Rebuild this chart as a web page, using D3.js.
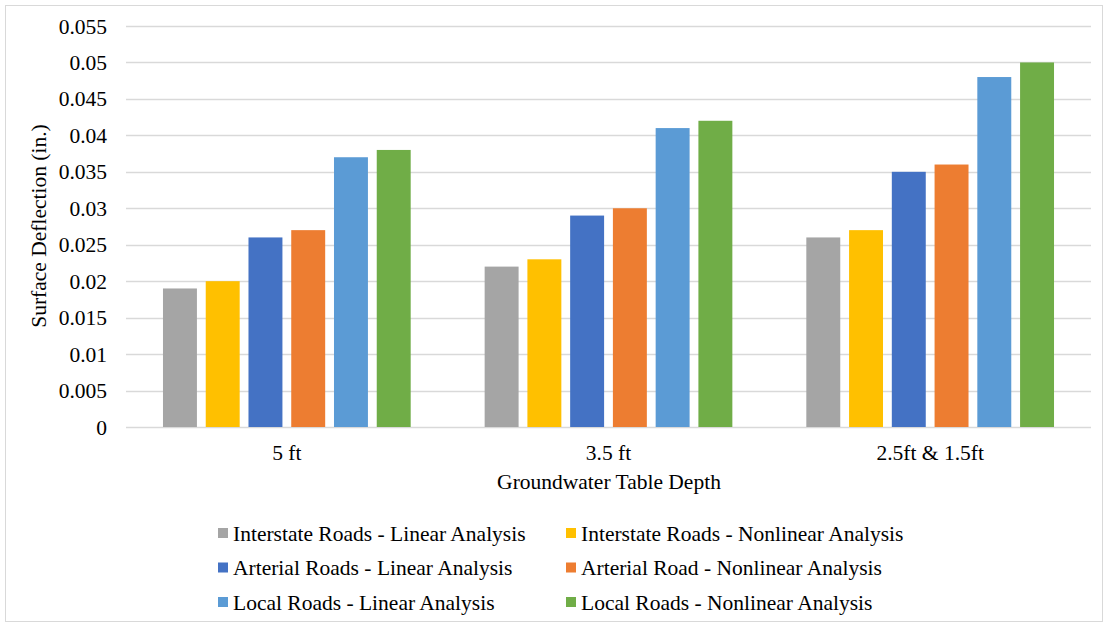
<!DOCTYPE html>
<html><head><meta charset="utf-8">
<script src="https://cdn.jsdelivr.net/npm/d3@7"></script>
<style>body{margin:0;background:#fff}svg{display:block}</style>
</head><body><svg id="c" width="1104" height="628"></svg>
<script>
const categories = ["5 ft", "3.5 ft", "2.5ft & 1.5ft"];
const seriesNames = ["Interstate Roads - Linear Analysis","Interstate Roads - Nonlinear Analysis","Arterial Roads - Linear Analysis","Arterial Road - Nonlinear Analysis","Local Roads - Linear Analysis","Local Roads - Nonlinear Analysis"];
const interstateLinear = [0.019, 0.022, 0.026];
const interstateNonlinear = [0.020, 0.023, 0.027];
const arterialLinear = [0.026, 0.029, 0.035];
const arterialNonlinear = [0.027, 0.030, 0.036];
const localLinear = [0.037, 0.041, 0.048];
const localNonlinear = [0.038, 0.042, 0.050];
const yTicks = [0,0.005,0.01,0.015,0.02,0.025,0.03,0.035,0.04,0.045,0.05,0.055];
const colors = ["#A5A5A5","#FFC000","#4472C4","#ED7D31","#5B9BD5","#70AD47"];
const seriesValues = [interstateLinear, interstateNonlinear, arterialLinear, arterialNonlinear, localLinear, localNonlinear];

(function(){
const FF = '"Liberation Serif"';
const FS = "21.5px";
const svg = d3.select("#c");
svg.append("rect").attr("x",5.5).attr("y",5.5).attr("width",1097).attr("height",616).attr("fill","#fff").attr("stroke","#D9D9D9");

const pl=126, pr=1091, pt=26, pb=427;
const x = d3.scaleBand().domain(categories).range([pl,pr]).padding(0);
const xs = d3.scaleBand().domain(d3.range(6)).range([0,x.bandwidth()]).paddingInner(0.206).paddingOuter(0.865);
const y = d3.scaleLinear().domain([0,0.055]).range([pb,pt]);

svg.append("g").selectAll("line").data(yTicks).join("line")
  .attr("x1",pl).attr("x2",pr).attr("y1",d=>Math.round(y(d))+0.5).attr("y2",d=>Math.round(y(d))+0.5)
  .attr("stroke","#D9D9D9").attr("stroke-width",1.3);

svg.append("g").selectAll("text").data(yTicks).join("text")
  .attr("x",107).attr("y",d=>y(d)).attr("dy","0.35em").attr("text-anchor","end")
  .style("font-family",FF).style("font-size",FS).text(d=>d===0?"0":String(+d.toFixed(3)));

seriesValues.forEach((vals,si)=>{
  svg.append("g").selectAll("rect").data(vals).join("rect")
    .attr("x",(d,i)=>x(categories[i])+xs(si)).attr("width",xs.bandwidth())
    .attr("y",d=>y(d)).attr("height",d=>y(0)-y(d)).attr("fill",colors[si]);
});

svg.append("g").selectAll("text").data(categories).join("text")
  .attr("x",d=>x(d)+x.bandwidth()/2).attr("y",460).attr("text-anchor","middle")
  .style("font-family",FF).style("font-size",FS).text(d=>d);

svg.append("text").attr("x",609).attr("y",489).attr("text-anchor","middle").style("font-family",FF).style("font-size",FS).text("Groundwater Table Depth");
svg.append("text").attr("transform","translate(46,226) rotate(-90)").attr("text-anchor","middle").style("font-family",FF).style("font-size",FS).text("Surface Deflection (in.)");

const lg = svg.append("g");
seriesNames.forEach((n,i)=>{
  const col=i%2, row=Math.floor(i/2);
  const lx = col===0?218:566, ly = 533+row*34.5;
  lg.append("rect").attr("x",lx).attr("y",ly-5).attr("width",10).attr("height",10).attr("fill",colors[i]);
  lg.append("text").attr("x",lx+15).attr("y",ly).attr("dy","0.35em").style("font-family",FF).style("font-size",FS).text(n);
});
})();
</script></body></html>
